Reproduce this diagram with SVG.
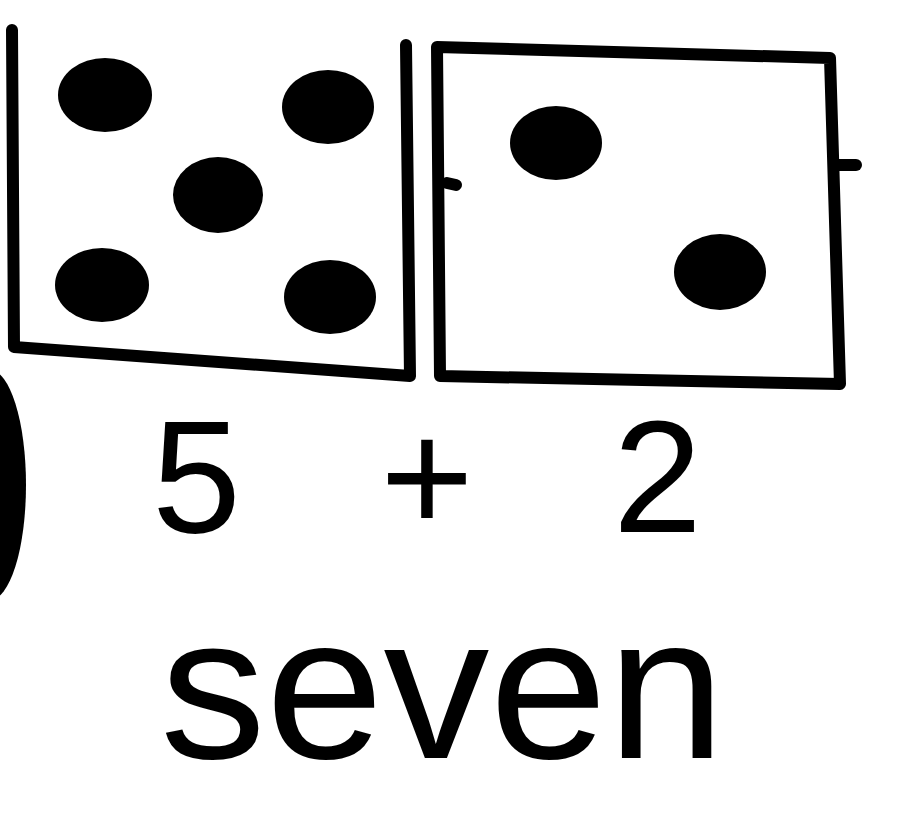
<svg xmlns="http://www.w3.org/2000/svg" width="919" height="814" viewBox="0 0 919 814">
<style>
.ln{fill:none;stroke:#000;stroke-width:12;stroke-linecap:round;stroke-linejoin:round}
.dot{fill:#000}
.t{font-family:"Liberation Sans",Arial,sans-serif;fill:#000}
</style>
<rect width="919" height="814" fill="#fff"/>
<g id="left-box">
<path class="ln" d="M12,30 L14,347 L410,376 L406,45"/>
<ellipse class="dot" cx="105" cy="95" rx="47" ry="37"/>
<ellipse class="dot" cx="328" cy="107" rx="46" ry="37"/>
<ellipse class="dot" cx="218" cy="195" rx="45" ry="38"/>
<ellipse class="dot" cx="102" cy="285" rx="47" ry="37"/>
<ellipse class="dot" cx="330" cy="297" rx="46" ry="37"/>
</g>
<g id="right-box">
<path class="ln" d="M437,47 L830,58 L840,384 L440,376 Z"/>
<path class="ln" d="M447,183 L456,185"/>
<path class="ln" d="M836,165 L856,165"/>
<ellipse class="dot" cx="556" cy="143" rx="46" ry="37"/>
<ellipse class="dot" cx="720" cy="272" rx="46" ry="38"/>
</g>
<ellipse class="dot" cx="-10" cy="485" rx="36" ry="115"/>
<text class="t" x="152" y="532" font-size="160" textLength="550" lengthAdjust="spacing">5 + 2</text>
<text class="t" x="160" y="758" font-size="205" textLength="565" lengthAdjust="spacingAndGlyphs">seven</text>
</svg>
